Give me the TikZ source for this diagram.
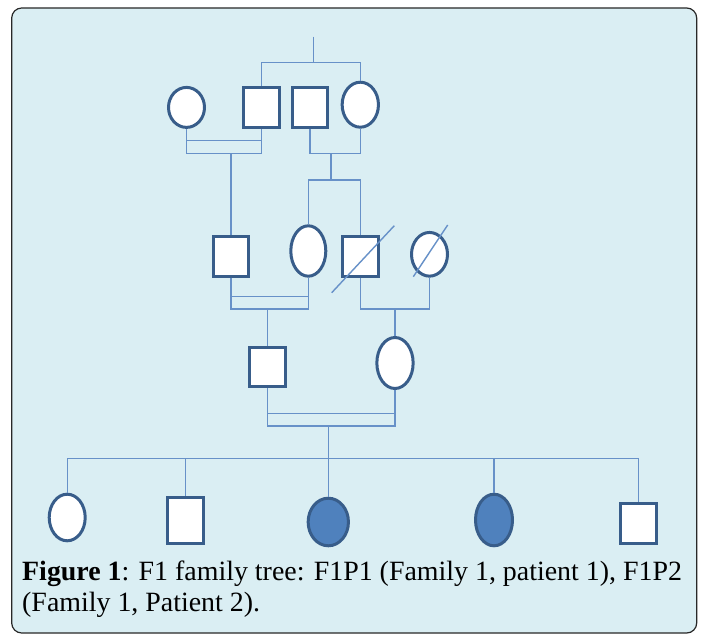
\documentclass[tikz,border=0pt]{standalone}
\usepackage{fontspec}
\setmainfont{Liberation Serif}
\usepackage{xcolor}
\usepackage{tikz}
\usetikzlibrary{shapes.geometric, positioning, calc}
\definecolor{panelblue}{RGB}{218, 238, 243}
\definecolor{edgeblue}{RGB}{56, 93, 138}
\definecolor{linkblue}{RGB}{103, 145, 200}
\definecolor{markblue}{RGB}{79, 129, 189}
\definecolor{framegray}{RGB}{40, 40, 40}

\begin{document}
\begin{tikzpicture}[
    x=1pt, y=-1pt,
    male/.style={
        rectangle, draw=edgeblue, fill=white, line width=3pt,
        inner sep=0pt, minimum width=35.7pt, minimum height=40pt
    },
    female/.style={
        ellipse, draw=edgeblue, fill=white, line width=3pt,
        inner sep=0pt, minimum width=36pt, minimum height=40pt
    },
    affected/.style={female, fill=markblue},
    caption/.style={anchor=base west, inner sep=0pt, font=\fontsize{27.9}{30}\selectfont},
    line/.style={draw, line width=1.4pt, color=linkblue}
]
    \useasboundingbox (0,0) rectangle (701,636);
    \path [draw=framegray, fill=panelblue, line width=1.2pt, rounded corners=10pt] (11.7,8) rectangle (696.7,633);

    \node [female]                          (g1) at (186.5,107.4) {};
    \node [male]                            (g2) at (261.7,107.2) {};
    \node [male]                            (g3) at (310,107.2)   {};
    \node [female, minimum width=36.3pt, minimum height=45pt] (g4) at (360.3,104.7) {};

    \node [male, minimum height=39.4pt]     (p1) at (231,256.5)   {};
    \node [female, minimum width=35pt, minimum height=50.4pt] (p2) at (308.3,251) {};
    \node [male, minimum width=36.3pt, minimum height=39.4pt] (p3) at (360.3,256.5) {};
    \node [female, minimum height=43.7pt]   (p4) at (429.5,254.3) {};

    \node [male, minimum width=36pt, minimum height=39.3pt] (q1) at (267.5,366.8) {};
    \node [female, minimum width=36.3pt, minimum height=51pt] (q2) at (395,363) {};

    \node [female, minimum height=46.6pt]   (c1) at (67.2,517.5)  {};
    \node [male, minimum height=46.3pt]     (c2) at (185.3,520.6) {};
    \node [affected, minimum width=40.3pt, minimum height=47.6pt] (c3) at (328.3,522) {};
    \node [affected, minimum width=37pt, minimum height=51.6pt]   (c4) at (494,520)   {};
    \node [male, minimum width=35.4pt, minimum height=39.7pt] (c5) at (638.5,523.6) {};

    \coordinate (top)  at (313.7,36.7);
    \coordinate (sibA) at (313.7,62.7);
    \coordinate (mA1)  at (231,140.7);
    \coordinate (mA2)  at (231,153.3);
    \coordinate (mB)   at (331,153.3);
    \coordinate (sibB) at (331,180);
    \coordinate (mC1)  at (267.5,296.7);
    \coordinate (mC2)  at (267.5,309);
    \coordinate (mD)   at (395,309);
    \coordinate (mE1)  at (328.3,413.3);
    \coordinate (mE2)  at (328.3,426);
    \coordinate (sibC) at (328.3,458.7);

    \path [line] (top)  -- (sibA);
    \path [line] (g2.north) |- (sibA) -| (g4.north);
    \path [line] (g1.south) |- (mA2) -| (g2.south);
    \path [line] (g1.south |- mA1) -- (g2.south |- mA1);
    \path [line] (mA2)  -- (p1.north);
    \path [line] (g3.south) |- (mB) -| (g4.south);
    \path [line] (mB)   -- (sibB);
    \path [line] (p2.north) |- (sibB) -| (p3.north);

    \path [line] (p1.south) |- (mC2) -| (p2.south);
    \path [line] (p1.south |- mC1) -- (p2.south |- mC1);
    \path [line] (mC2)  -- (q1.north);
    \path [line] (p3.south) |- (mD) -| (p4.south);
    \path [line] (mD)   -- (q2.north);
    \path [line] ([shift={(-28.6,36.2)}]p3.center) -- ([shift={(34,-30.8)}]p3.center);
    \path [line] ([shift={(-16.2,22.4)}]p4.center) -- ([shift={(18.2,-29.3)}]p4.center);

    \path [line] (q1.south) |- (mE2) -| (q2.south);
    \path [line] (q1.south |- mE1) -- (q2.south |- mE1);
    \path [line] (mE2)  -- (c3.north);
    \path [line] (c1.north) |- (sibC) -| (c5.north);
    \path [line] (c2.north) -- (c2.north |- sibC);
    \path [line] (c4.north) -- (c4.north |- sibC);

    \node [caption] (cap1) at (22,580) {\textbf{Figure 1}: F1 family tree: F1P1 (Family 1, patient 1), F1P2};
    \node [caption] (cap2) at (22,611) {(Family 1, Patient 2).};
\end{tikzpicture}
\end{document}
